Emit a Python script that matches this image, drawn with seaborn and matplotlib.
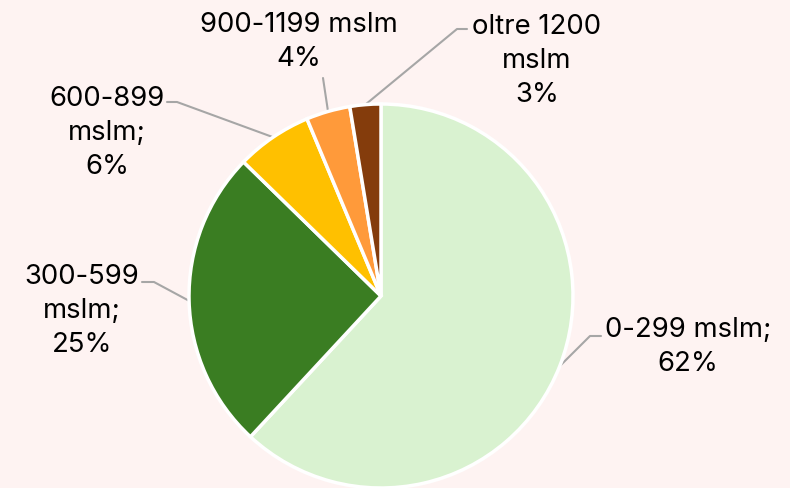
import numpy as np
import matplotlib
matplotlib.use("Agg")
import matplotlib.pyplot as plt
import seaborn as sns

# dati: quote per fascia altimetrica
fasce = ["0-299 mslm", "300-599 mslm", "600-899 mslm", "900-1199 mslm", "oltre 1200 mslm"]
quote = [61.9, 25.4, 6.4, 3.7, 2.6]
etichette = ["0-299 mslm;\n62%", "300-599\nmslm;\n25%", "600-899\nmslm;\n6%",
             "900-1199 mslm\n4%", "oltre 1200\nmslm\n3%"]
colori = ["#D9F2D0", "#3A7D22", "#FFC000", "#FF9A3A", "#843C0C"]

sns.set_style("white")
plt.rcParams['font.family'] = ['Inter', 'DejaVu Sans']

W, H = 790, 489
bg = "#FEF3F2"
fig = plt.figure(figsize=(W / 100, H / 100), dpi=100, facecolor=bg)
ax = fig.add_axes([0, 0, 1, 1])
ax.set_facecolor(bg)

cx, cy, R = 381, 297, 192  # pixel (y dall'alto)
wedges, _ = ax.pie(quote, colors=colori, startangle=90, counterclock=False,
                   center=(cx, H - cy), radius=R,
                   wedgeprops=dict(edgecolor="white", linewidth=2.5))
ax.set_xlim(0, W)
ax.set_ylim(0, H)
ax.set_aspect("equal")
ax.axis("off")

# posizioni etichette (pixel) e gomito della linea guida
pos_testo = [(688, 347), (82, 311), (107, 133), (299, 42), (537, 61)]
gomiti = [[(601, 337), (590, 337)],
          [(142, 283), (154, 283)],
          [(167, 103), (177, 103)],
          [(323, 79)],
          [(467, 30), (457, 30)]]

for w, lab, (tx, ty), g in zip(wedges, etichette, pos_testo, gomiti):
    ax.text(tx, H - ty, lab, ha="center", va="center", fontsize=19.8,
            linespacing=1.42, color="black")
    ang = np.deg2rad((w.theta1 + w.theta2) / 2)
    ex = w.center[0] + w.r * np.cos(ang)
    ey = w.center[1] + w.r * np.sin(ang)
    xs = [p[0] for p in g] + [ex]
    ys = [H - p[1] for p in g] + [ey]
    ax.plot(xs, ys, color="#A6A6A6", lw=1.5, zorder=0.5)

fig.savefig("out.png", dpi=100, facecolor=bg)
